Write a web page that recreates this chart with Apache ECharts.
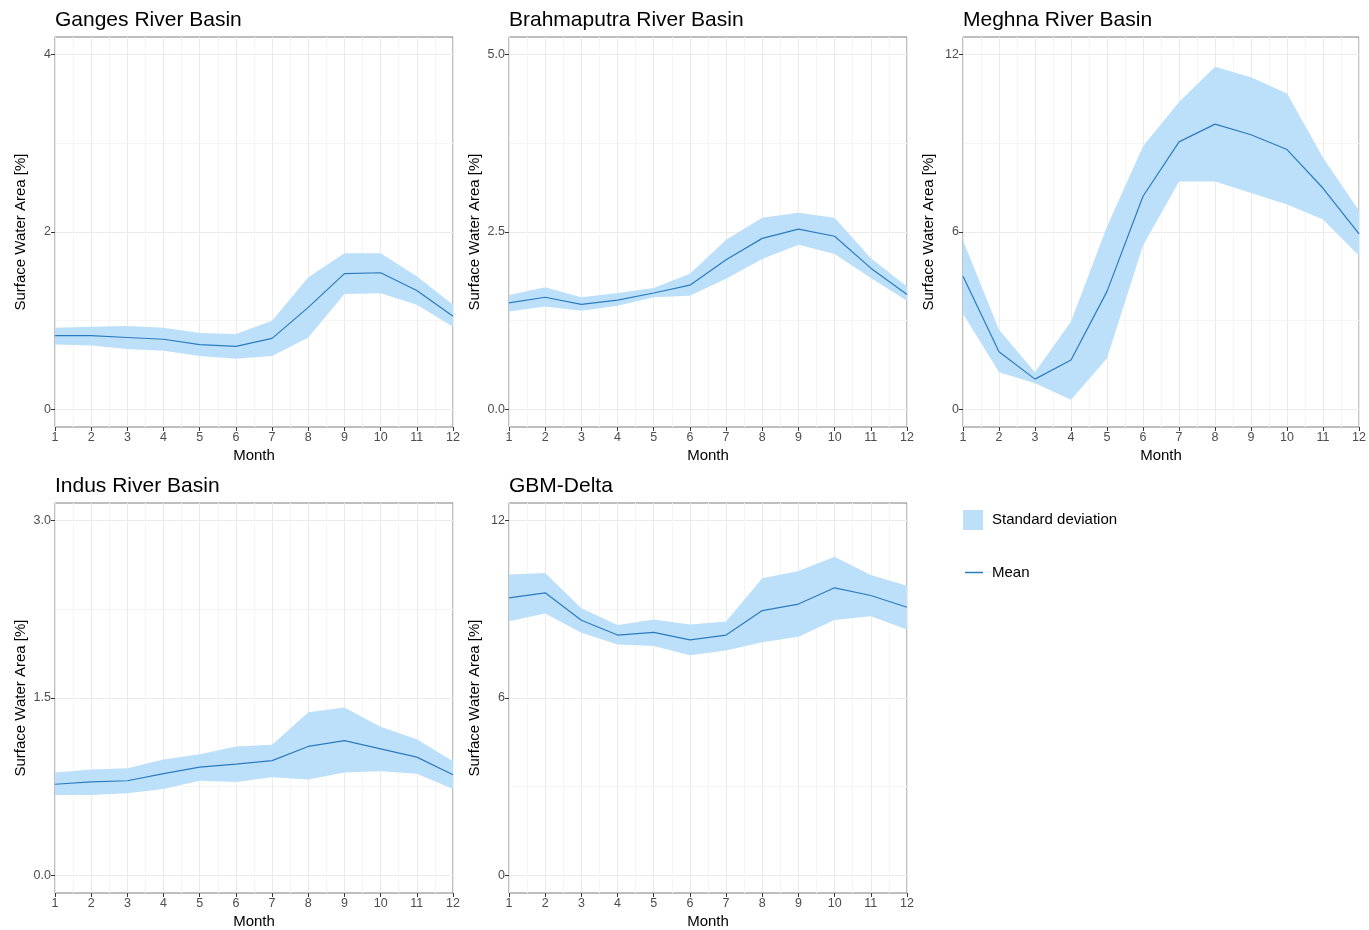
<!DOCTYPE html>
<html>
<head>
<meta charset="utf-8">
<title>Surface Water Area</title>
<script src="https://cdn.jsdelivr.net/npm/echarts@6/dist/echarts.min.js"></script>
<style>
  html, body { margin: 0; padding: 0; background: #fff; }
  #chart { width: 1369px; height: 930px; }
</style>
</head>
<body>
<div id="chart"></div>
<script>
const months = [1, 2, 3, 4, 5, 6, 7, 8, 9, 10, 11, 12];

const gangesMean  = [0.83, 0.83, 0.81, 0.79, 0.73, 0.71, 0.80, 1.15, 1.53, 1.54, 1.34, 1.05];
const gangesUpper = [0.92, 0.93, 0.94, 0.92, 0.86, 0.85, 1.00, 1.49, 1.76, 1.76, 1.50, 1.18];
const gangesLower = [0.73, 0.72, 0.68, 0.66, 0.60, 0.57, 0.60, 0.81, 1.30, 1.31, 1.18, 0.93];

const brahmaMean  = [1.50, 1.58, 1.48, 1.54, 1.64, 1.75, 2.11, 2.41, 2.54, 2.44, 1.99, 1.62];
const brahmaUpper = [1.61, 1.72, 1.58, 1.64, 1.71, 1.91, 2.39, 2.70, 2.77, 2.70, 2.13, 1.73];
const brahmaLower = [1.38, 1.45, 1.39, 1.46, 1.58, 1.60, 1.84, 2.12, 2.32, 2.19, 1.85, 1.53];

const meghnaMean  = [4.50, 1.95, 1.02, 1.67, 3.99, 7.21, 9.05, 9.65, 9.29, 8.79, 7.48, 5.94];
const meghnaUpper = [5.72, 2.69, 1.25, 2.97, 6.19, 8.90, 10.40, 11.59, 11.24, 10.69, 8.51, 6.72];
const meghnaLower = [3.23, 1.25, 0.88, 0.32, 1.73, 5.54, 7.71, 7.71, 7.32, 6.93, 6.42, 5.20];

const indusMean  = [0.77, 0.79, 0.80, 0.86, 0.915, 0.94, 0.97, 1.09, 1.14, 1.07, 1.00, 0.85];
const indusUpper = [0.87, 0.895, 0.905, 0.98, 1.025, 1.09, 1.105, 1.38, 1.42, 1.256, 1.15, 0.965];
const indusLower = [0.68, 0.68, 0.695, 0.73, 0.80, 0.79, 0.83, 0.81, 0.87, 0.88, 0.86, 0.73];

const gbmMean  = [9.39, 9.56, 8.63, 8.13, 8.22, 7.97, 8.13, 8.96, 9.18, 9.73, 9.47, 9.07];
const gbmUpper = [10.18, 10.23, 9.04, 8.47, 8.66, 8.49, 8.59, 10.05, 10.30, 10.78, 10.16, 9.80];
const gbmLower = [8.60, 8.86, 8.21, 7.81, 7.76, 7.45, 7.61, 7.89, 8.07, 8.64, 8.77, 8.32];

const titles = ['Ganges River Basin', 'Brahmaputra River Basin', 'Meghna River Basin', 'Indus River Basin', 'GBM-Delta'];
const yTicks = [[0, 2, 4], [0, 2.5, 5], [0, 6, 12], [0, 1.5, 3], [0, 6, 12]];
const yLabels = [['0', '2', '4'], ['0.0', '2.5', '5.0'], ['0', '6', '12'], ['0.0', '1.5', '3.0'], ['0', '6', '12']];

const basins = [
  { mean: gangesMean, upper: gangesUpper, lower: gangesLower },
  { mean: brahmaMean, upper: brahmaUpper, lower: brahmaLower },
  { mean: meghnaMean, upper: meghnaUpper, lower: meghnaLower },
  { mean: indusMean, upper: indusUpper, lower: indusLower },
  { mean: gbmMean, upper: gbmUpper, lower: gbmLower }
];

const bandColor = '#bde0fa';
const lineColor = '#2b7bbf';
const font = 'Liberation Sans, Arial, sans-serif';

const panelLeft = [55, 509, 963, 55, 509];
const panelTop = [37, 37, 37, 503, 503];
const panelW = 398, panelH = 390;

let grid = [], xAxis = [], yAxis = [], series = [], title = [];

basins.forEach((b, i) => {
  const ticks = yTicks[i];
  const step = ticks[1] - ticks[0];
  const pad = (ticks[2] - ticks[0]) * 0.05;
  const minor = [ticks[0] + step / 2, ticks[1] + step / 2];

  grid.push({
    left: panelLeft[i], top: panelTop[i], width: panelW, height: panelH,
    show: true, borderColor: '#7f7f7f', borderWidth: 1, backgroundColor: '#fff'
  });
  title.push({
    text: titles[i], left: panelLeft[i], top: panelTop[i] - 27, padding: 0,
    textStyle: { fontFamily: font, fontSize: 21, fontWeight: 'normal', color: '#000' }
  });
  xAxis.push({
    gridIndex: i, type: 'value', min: 1, max: 12, interval: 1,
    name: 'Month', nameLocation: 'middle', nameGap: 21,
    nameTextStyle: { fontFamily: font, fontSize: 15, color: '#000' },
    axisLine: { show: false, onZero: false },
    axisTick: { show: true, length: 4, lineStyle: { color: '#333' } },
    axisLabel: { fontFamily: font, fontSize: 12.5, color: '#4d4d4d', margin: 4 },
    splitLine: { show: true, lineStyle: { color: '#ebebeb', width: 1 } },
    minorTick: { show: false, splitNumber: 2 },
    minorSplitLine: { show: true, lineStyle: { color: '#f5f5f5', width: 1 } }
  });
  yAxis.push({
    gridIndex: i, type: 'value', min: ticks[0] - pad, max: ticks[2] + pad,
    name: 'Surface Water Area [%]', nameLocation: 'middle', nameGap: 27,
    nameTextStyle: { fontFamily: font, fontSize: 15, color: '#000' },
    axisLine: { show: false, onZero: false },
    axisTick: { show: true, length: 4, customValues: ticks, lineStyle: { color: '#333' } },
    axisLabel: {
      fontFamily: font, fontSize: 12.5, color: '#4d4d4d', margin: 4,
      customValues: ticks,
      formatter: v => yLabels[i][ticks.indexOf(v)]
    },
    splitLine: { show: true, lineStyle: { color: '#ebebeb', width: 1 } }
  });
  yAxis.push({
    gridIndex: i, type: 'value', min: ticks[0] - pad, max: ticks[2] + pad,
    position: 'left',
    axisLine: { show: false, onZero: false },
    axisTick: { show: false, customValues: minor },
    axisLabel: { show: false },
    splitLine: { show: true, lineStyle: { color: '#f5f5f5', width: 1 } }
  });

  // ribbon: one polygon from lower edge forward and upper edge back
  series.push({
    type: 'custom', name: 'Standard deviation', xAxisIndex: i, yAxisIndex: 2 * i,
    data: months.map((m, k) => [m, b.lower[k], b.upper[k]]),
    encode: { x: 0, y: [1, 2] },
    silent: true,
    itemStyle: { color: bandColor },
    renderItem: function (params, api) {
      if (params.dataIndex !== 0) return null;
      let pts = [];
      months.forEach((m, k) => pts.push(api.coord([m, b.lower[k]])));
      for (let k = months.length - 1; k >= 0; k--) pts.push(api.coord([months[k], b.upper[k]]));
      return { type: 'polygon', shape: { points: pts }, style: { fill: bandColor } };
    }
  });
  series.push({
    type: 'line', name: 'Mean', xAxisIndex: i, yAxisIndex: 2 * i,
    data: months.map((m, k) => [m, b.mean[k]]),
    symbol: 'none', silent: true, z: 3,
    itemStyle: { color: lineColor },
    lineStyle: { color: lineColor, width: 1.2 }
  });
});

let option = {
  animation: false,
  backgroundColor: '#fff',
  title: title,
  legend: [
    {
      left: 963, top: 510, padding: 0, itemWidth: 20, itemHeight: 20,
      data: [{ name: 'Standard deviation', icon: 'rect', itemStyle: { color: bandColor } }],
      textStyle: { fontFamily: font, fontSize: 15, color: '#000', padding: [2, 0, 0, 4] },
      selectedMode: false
    },
    {
      left: 965, top: 565, padding: 0, itemWidth: 18, itemHeight: 1.5,
      data: [{ name: 'Mean', icon: 'rect', itemStyle: { color: lineColor } }],
      textStyle: { fontFamily: font, fontSize: 15, color: '#000', padding: [0, 0, 0, 4] },
      selectedMode: false
    }
  ],
  grid: grid,
  xAxis: xAxis,
  yAxis: yAxis,
  series: series
};

let myChart = echarts.init(document.getElementById('chart'));
myChart.setOption(option);
</script>
</body>
</html>
